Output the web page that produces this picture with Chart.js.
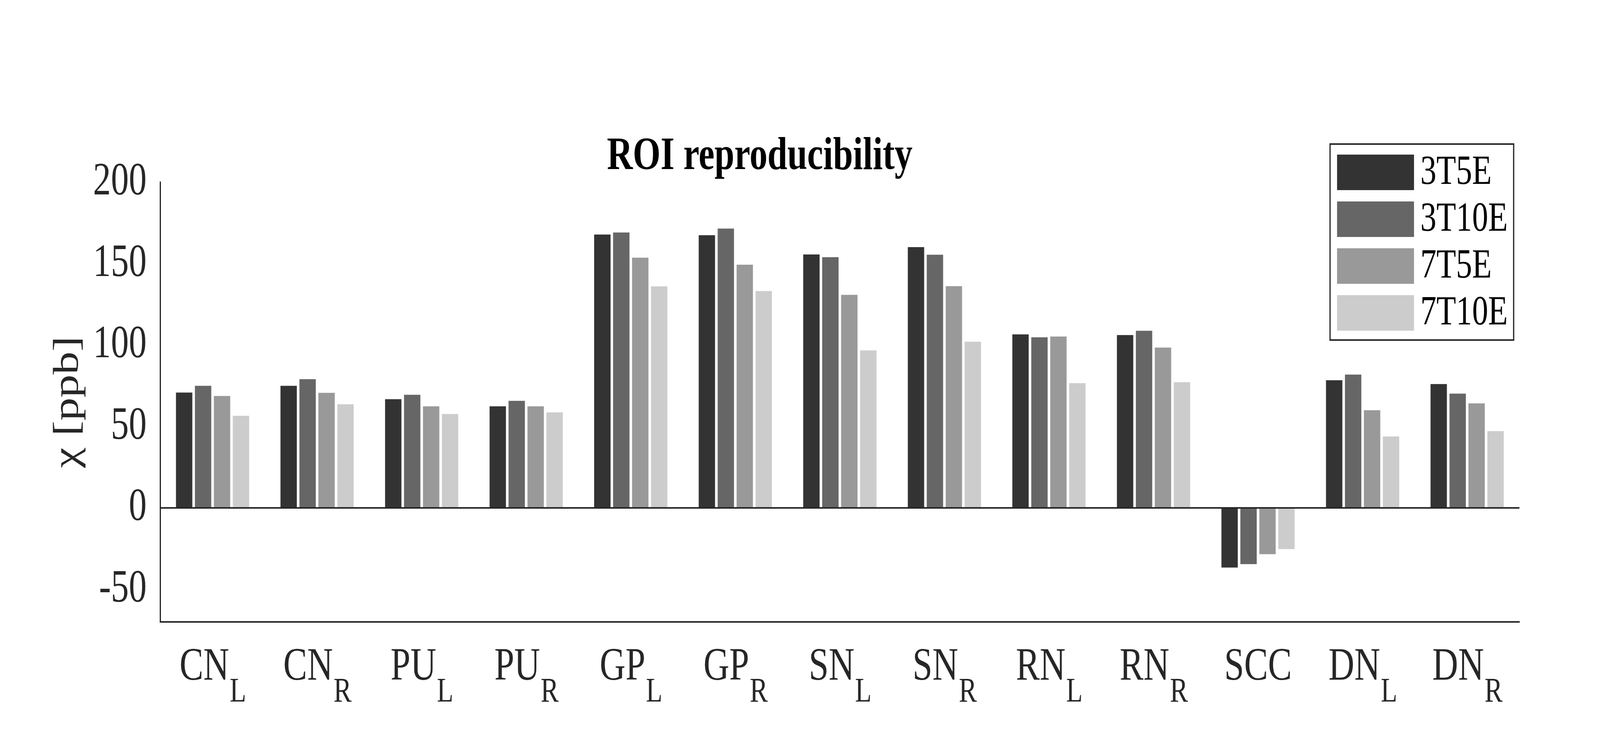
<!DOCTYPE html>
<html>
<head>
<meta charset="utf-8">
<script src="https://cdn.jsdelivr.net/npm/chart.js@4.4.1/dist/chart.umd.min.js"></script>
<style>
  html, body { margin: 0; padding: 0; background: #fff; overflow: hidden; }
  canvas { display: block; }
</style>
</head>
<body>
<canvas id="roiChart" width="5281" height="1875"></canvas>
<script>
// Data dari grafik (nilai chi dalam ppb)
const categories = ["CN_L", "CN_R", "PU_L", "PU_R", "GP_L", "GP_R", "SN_L", "SN_R", "RN_L", "RN_R", "SCC", "DN_L", "DN_R"];
const seriesNames = ["3T5E", "3T10E", "7T5E", "7T10E"];
const seriesColors = ["#333333", "#666666", "#999999", "#cccccc"];

const values3T5E = [70.9, 75.0, 66.8, 62.4, 167.9, 167.5, 155.7, 160.2, 106.6, 106.2, -36.6, 78.4, 76.1];
const values3T10E = [75.0, 79.1, 69.5, 65.8, 169.2, 171.6, 154.0, 155.5, 104.8, 108.8, -34.5, 81.9, 70.2];
const values7T5E = [68.8, 70.7, 62.4, 62.4, 153.7, 149.4, 130.9, 136.2, 105.3, 98.5, -28.4, 60.0, 64.2];
const values7T10E = [56.6, 63.7, 57.7, 58.7, 136.1, 133.2, 96.8, 102.1, 76.6, 77.2, -25.3, 43.9, 47.2];

const yTicks = [-50, 0, 50, 100, 150, 200];

const FONT = "'Liberation Serif', 'Times New Roman', serif";
const AXIS_COLOR = "#262626";

// Kanvas digambar di ukuran referensi 5281x1875, lalu direntangkan ke ukuran jendela
const canvas = document.getElementById("roiChart");
canvas.style.width = window.innerWidth + "px";
canvas.style.height = window.innerHeight + "px";

// Label sumbu x dengan subskrip (CN_L -> CN + L kecil)
const subscriptLabels = {
  id: "subscriptLabels",
  afterDraw(chart) {
    const { ctx, chartArea, scales } = chart;
    const xScale = scales.x;
    const baseY = chartArea.bottom + 148;
    ctx.save();
    ctx.fillStyle = AXIS_COLOR;
    ctx.textBaseline = "alphabetic";
    ctx.textAlign = "left";
    categories.forEach((cat, i) => {
      const [main, sub] = cat.split("_");
      const x = xScale.getPixelForValue(i);
      ctx.font = "118px " + FONT;
      const wMain = ctx.measureText(main).width;
      ctx.font = "89px " + FONT;
      const wSub = sub ? ctx.measureText(sub).width : 0;
      const start = x - (wMain + wSub) / 2;
      ctx.font = "118px " + FONT;
      ctx.fillText(main, start, baseY);
      if (sub) {
        ctx.font = "89px " + FONT;
        ctx.fillText(sub, start + wMain + 2, baseY + 56);
      }
    });
    ctx.restore();
  }
};

// Legenda di dalam area plot (pojok kanan atas)
const boxLegend = {
  id: "boxLegend",
  afterDraw(chart) {
    const { ctx, chartArea } = chart;
    const right = chartArea.right - 19;
    const left = right - 606;
    const top = chartArea.top - 98;
    const height = 502;
    ctx.save();
    ctx.fillStyle = "#ffffff";
    ctx.fillRect(left, top, right - left, height);
    ctx.lineWidth = 4;
    ctx.strokeStyle = AXIS_COLOR;
    ctx.strokeRect(left, top, right - left, height);
    ctx.font = "106px " + FONT;
    ctx.textBaseline = "middle";
    ctx.textAlign = "left";
    chart.data.datasets.forEach((ds, k) => {
      const y = top + 27 + k * 120;
      ctx.fillStyle = ds.backgroundColor;
      ctx.fillRect(left + 23, y, 254, 91);
      ctx.fillStyle = "#000000";
      ctx.fillText(ds.label, left + 298, y + 47);
    });
    ctx.restore();
  }
};

const ctx = canvas.getContext("2d");

const datasets = [values3T5E, values3T10E, values7T5E, values7T10E].map((vals, k) => ({
  label: seriesNames[k],
  data: vals,
  backgroundColor: seriesColors[k],
  borderWidth: 0,
  categoryPercentage: 0.725,
  barPercentage: 0.864
}));

const roiChart = new Chart(ctx, {
  type: "bar",
  data: {
    labels: categories,
    datasets: datasets
  },
  options: {
    responsive: false,
    animation: false,
    devicePixelRatio: 1,
    layout: { padding: { left: 0, right: 266, top: 0, bottom: 0 } },
    plugins: {
      legend: { display: false },
      tooltip: { enabled: false },
      title: {
        display: true,
        text: "ROI reproducibility",
        color: "#000000",
        font: { family: FONT, size: 118, weight: "bold", lineHeight: 1 },
        padding: { top: 344, bottom: 5 }
      }
    },
    scales: {
      x: {
        grid: { display: false, drawTicks: false },
        border: { display: true, color: AXIS_COLOR, width: 4 },
        ticks: { display: false },
        afterFit(scale) { scale.height = 282; }
      },
      y: {
        min: -70,
        max: 200,
        afterBuildTicks(scale) {
          scale.ticks = yTicks.map(v => ({ value: v }));
        },
        grid: {
          drawTicks: false,
          lineWidth: 4,
          color: (c) => (c.tick && c.tick.value === 0 ? AXIS_COLOR : "rgba(0,0,0,0)")
        },
        border: { display: true, color: AXIS_COLOR, width: 4 },
        ticks: {
          color: AXIS_COLOR,
          padding: 45,
          font: { family: FONT, size: 118 }
        },
        title: {
          display: true,
          text: "\u03C7 [ppb]",
          color: AXIS_COLOR,
          font: { family: FONT, size: 118, lineHeight: 1.2 },
          padding: { top: 155, bottom: 0 }
        },
        afterFit(scale) { scale.width = 529; }
      }
    }
  },
  plugins: [subscriptLabels, boxLegend]
});
</script>
</body>
</html>
